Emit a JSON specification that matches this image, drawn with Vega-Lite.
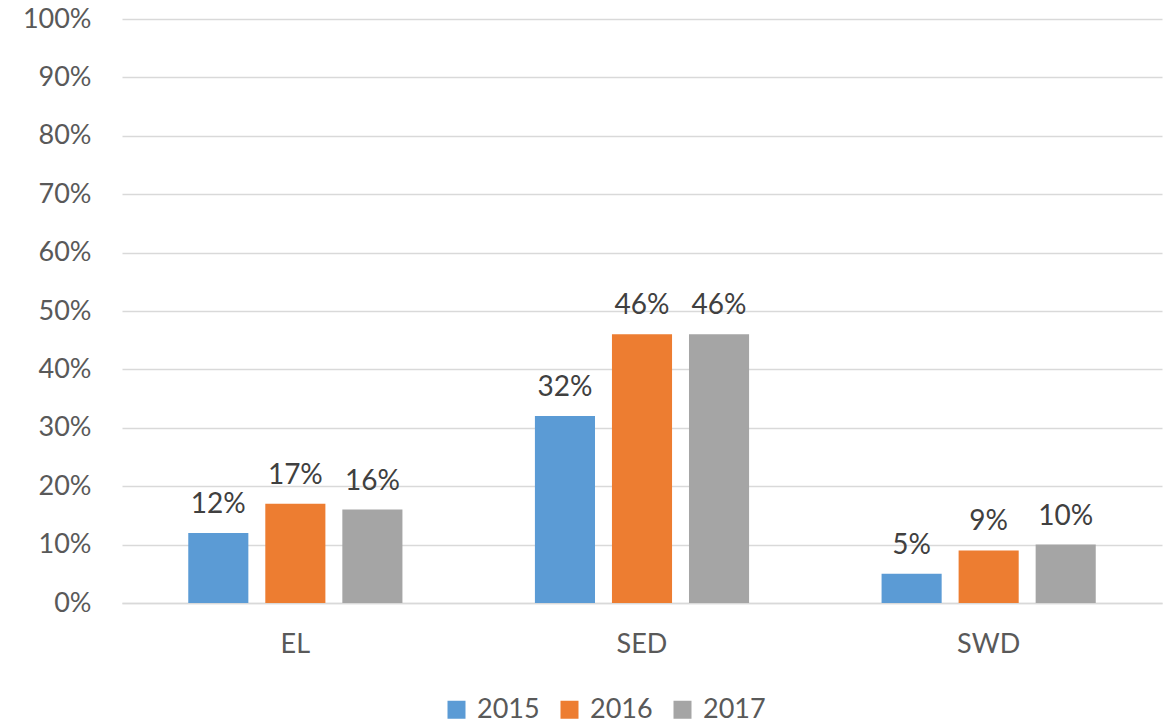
{
  "$schema": "https://vega.github.io/schema/vega-lite/v6.json",
  "width": 1040,
  "height": 584,
  "autosize": "none",
  "padding": {"left": 122, "top": 19, "right": 7, "bottom": 120},
  "background": "white",
  "config": {
    "font": "Lato",
    "view": {"stroke": null}
  },
  "data": {
    "values": [
      {"group": "EL", "year": "2015", "value": 0.12},
      {"group": "EL", "year": "2016", "value": 0.17},
      {"group": "EL", "year": "2017", "value": 0.16},
      {"group": "SED", "year": "2015", "value": 0.32},
      {"group": "SED", "year": "2016", "value": 0.46},
      {"group": "SED", "year": "2017", "value": 0.46},
      {"group": "SWD", "year": "2015", "value": 0.05},
      {"group": "SWD", "year": "2016", "value": 0.09},
      {"group": "SWD", "year": "2017", "value": 0.10}
    ]
  },
  "encoding": {
    "x": {
      "field": "group",
      "type": "nominal",
      "sort": ["EL", "SED", "SWD"],
      "scale": {"paddingInner": 0.3333, "paddingOuter": 0.1667},
      "axis": {
        "title": null,
        "labelAngle": 0,
        "labelFontSize": 27,
        "labelColor": "#595959",
        "labelPadding": 28,
        "ticks": false,
        "domainColor": "#D9D9D9",
        "domainWidth": 1.5
      }
    },
    "xOffset": {
      "field": "year",
      "type": "nominal",
      "scale": {"paddingInner": 0.22, "paddingOuter": 0.11}
    },
    "y": {
      "field": "value",
      "type": "quantitative",
      "scale": {"domain": [0, 1], "nice": false},
      "axis": {
        "title": null,
        "format": ".0%",
        "values": [0, 0.1, 0.2, 0.3, 0.4, 0.5, 0.6, 0.7, 0.8, 0.9, 1],
        "labelFontSize": 27,
        "labelColor": "#595959",
        "labelPadding": 31,
        "ticks": false,
        "domain": false,
        "gridColor": "#D9D9D9",
        "gridWidth": 1.5
      }
    }
  },
  "layer": [
    {
      "mark": {"type": "bar"},
      "encoding": {
        "color": {
          "field": "year",
          "type": "nominal",
          "scale": {"domain": ["2015", "2016", "2017"], "range": ["#5B9BD5", "#ED7D31", "#A5A5A5"]},
          "legend": {
            "title": null,
            "orient": "none",
            "direction": "horizontal",
            "legendX": 321,
            "legendY": 677,
            "symbolType": "square",
            "symbolSize": 324,
            "symbolStrokeWidth": 0,
            "labelFontSize": 27,
            "labelColor": "#595959",
            "labelOffset": 7,
            "columnPadding": 16
          }
        }
      }
    },
    {
      "mark": {"type": "text", "baseline": "alphabetic", "dy": -20, "fontSize": 28, "color": "#404040"},
      "encoding": {
        "text": {"field": "value", "type": "quantitative", "format": ".0%"}
      }
    }
  ]
}
